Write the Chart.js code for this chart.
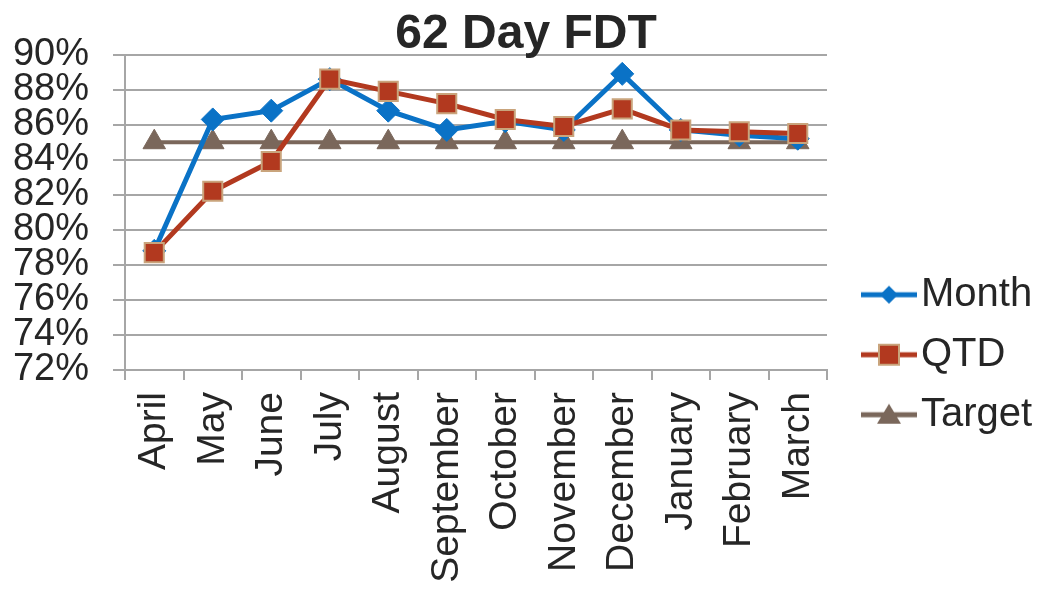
<!DOCTYPE html>
<html>
<head>
<meta charset="utf-8">
<script src="https://cdn.jsdelivr.net/npm/chart.js@4/dist/chart.umd.min.js"></script>
<style>
  html, body { margin: 0; padding: 0; background: #fff; }
  #wrap { width: 1039px; height: 589px; }
</style>
</head>
<body>
<div id="wrap"><canvas id="c" width="1039" height="589"></canvas></div>
<script>
const categories = ['April','May','June','July','August','September','October','November','December','January','February','March'];
const monthValues = [78.8, 86.3, 86.8, 88.6, 86.8, 85.7, 86.2, 85.7, 88.9, 85.7, 85.4, 85.2];
const qtdValues = [78.7, 82.2, 83.9, 88.6, 87.9, 87.2, 86.3, 85.9, 86.9, 85.7, 85.6, 85.5];
const targetValues = [85, 85, 85, 85, 85, 85, 85, 85, 85, 85, 85, 85];
const seriesNames = ['Month', 'QTD', 'Target'];
const yMin = 72, yMax = 90, yStep = 2;

const FONT = "'Liberation Sans', Arial, sans-serif";
const TEXT = '#262626';
const GRID = '#A6A6A6';
const C_MONTH = '#0A72C6';
const C_QTD = '#B2391F';
const C_QTD_BORDER = '#C9A47C';
const C_TARGET = '#7A675B';

function legendIcon(kind, color, border) {
  const w = 86, h = 30, off = 30;
  const cv = document.createElement('canvas');
  cv.width = w; cv.height = h;
  const ctx = cv.getContext('2d');
  const cy = h / 2, cx = off + (w - off) / 2;
  ctx.strokeStyle = color; ctx.lineWidth = 5;
  ctx.beginPath(); ctx.moveTo(off, cy); ctx.lineTo(w, cy); ctx.stroke();
  ctx.fillStyle = color;
  ctx.beginPath();
  if (kind === 'diamond') {
    ctx.moveTo(cx, cy - 9); ctx.lineTo(cx + 9, cy); ctx.lineTo(cx, cy + 9); ctx.lineTo(cx - 9, cy); ctx.closePath();
    ctx.fill();
  } else if (kind === 'square') {
    ctx.rect(cx - 10, cy - 10, 20, 20);
    ctx.fill();
    ctx.lineWidth = 2; ctx.strokeStyle = border; ctx.stroke();
  } else {
    ctx.moveTo(cx, cy - 11); ctx.lineTo(cx + 12, cy + 9); ctx.lineTo(cx - 12, cy + 9); ctx.closePath();
    ctx.fill();
  }
  return cv;
}
const icons = [legendIcon('diamond', C_MONTH), legendIcon('square', C_QTD, C_QTD_BORDER), legendIcon('triangle', C_TARGET)];

new Chart(document.getElementById('c'), {
  type: 'line',
  data: {
    labels: categories,
    datasets: [
      { label: seriesNames[0], data: monthValues, borderColor: C_MONTH, backgroundColor: C_MONTH, borderWidth: 5,
        pointStyle: 'rectRot', pointRadius: 11.5, pointHoverRadius: 11.5, pointBorderColor: C_MONTH, pointBackgroundColor: C_MONTH, pointBorderWidth: 1, order: 2 },
      { label: seriesNames[1], data: qtdValues, borderColor: C_QTD, backgroundColor: C_QTD, borderWidth: 5,
        pointStyle: 'rect', pointRadius: 13.5, pointHoverRadius: 13.5, pointBorderColor: C_QTD_BORDER, pointBackgroundColor: C_QTD, pointBorderWidth: 2, order: 1 },
      { label: seriesNames[2], data: targetValues, borderColor: C_TARGET, backgroundColor: C_TARGET, borderWidth: 4,
        pointStyle: 'triangle', pointRadius: 13, pointHoverRadius: 13, pointBorderColor: C_TARGET, pointBackgroundColor: C_TARGET, pointBorderWidth: 1, order: 3 }
    ]
  },
  options: {
    responsive: false,
    animation: false,
    layout: { padding: { left: 13, right: 0, top: 0, bottom: 0 } },
    elements: { line: { tension: 0 } },
    plugins: {
      tooltip: { enabled: false },
      title: {
        display: true, text: '62 Day FDT', color: TEXT,
        font: { family: FONT, size: 48, weight: 'bold' },
        padding: { top: 6, bottom: -9 }
      },
      legend: {
        display: true, position: 'right', align: 'center',
        maxWidth: 212,
        title: { display: true, text: '', padding: { top: 106, bottom: 0 } },
        labels: {
          color: TEXT, font: { family: FONT, size: 40 },
          usePointStyle: true, pointStyleWidth: 54, padding: 20,
          generateLabels: (chart) => chart.data.datasets.map((ds, i) => ({
            text: ds.label, fillStyle: ds.borderColor, strokeStyle: ds.borderColor,
            pointStyle: icons[i], datasetIndex: i, hidden: false, lineWidth: 0, fontColor: TEXT
          }))
        }
      }
    },
    scales: {
      x: {
        type: 'category', offset: true,
        afterFit: (s) => { s.paddingLeft = 0; s.paddingRight = 0; s.height = 219; },
        grid: { display: true, drawOnChartArea: false, offset: true, tickLength: 10, color: GRID, lineWidth: 2 },
        border: { display: true, color: GRID, width: 2 },
        ticks: { color: TEXT, font: { family: FONT, size: 39 }, minRotation: 90, maxRotation: 90, padding: 12, autoSkip: false }
      },
      y: {
        min: yMin, max: yMax,
        afterFit: (s) => { s.width = 112; },
        grid: { color: GRID, lineWidth: 2, tickLength: 12 },
        border: { display: true, color: GRID, width: 2 },
        ticks: { stepSize: yStep, autoSkip: false, color: TEXT, font: { family: FONT, size: 38 }, padding: 24,
          callback: (v) => v + '%' }
      }
    }
  }
});
</script>
</body>
</html>
